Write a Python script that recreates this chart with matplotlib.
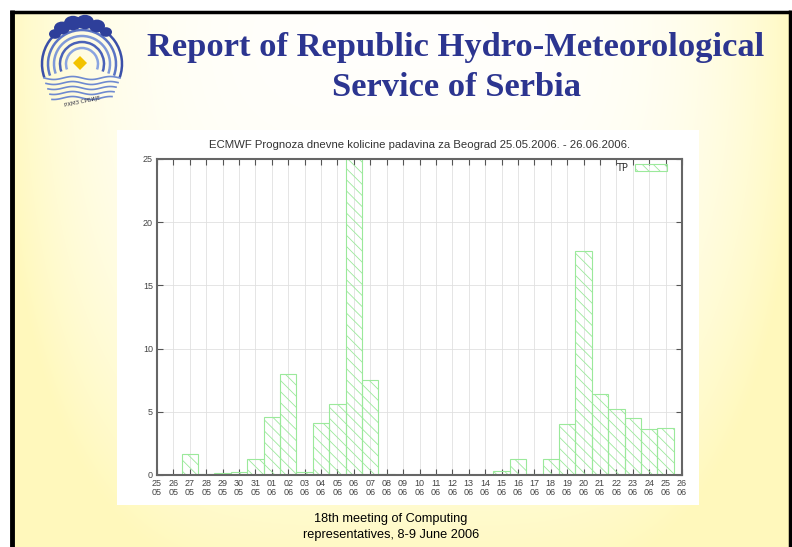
import numpy as np
import matplotlib.pyplot as plt
from matplotlib.patches import Rectangle, Arc, Polygon, Ellipse

# daily precipitation forecast, Belgrade 25.05.2006 - 26.06.2006
days = ["25", "26", "27", "28", "29", "30", "31",
        "01", "02", "03", "04", "05", "06", "07", "08", "09", "10",
        "11", "12", "13", "14", "15", "16", "17", "18", "19", "20",
        "21", "22", "23", "24", "25", "26"]
months = ["05"] * 7 + ["06"] * 26
tp = [0.0, 0.0, 1.65, 0.05, 0.15, 0.2, 1.3,
      4.6, 8.0, 0.2, 4.1, 5.6, 25.0, 7.55, 0.1, 0.0, 0.0,
      0.0, 0.0, 0.0, 0.0, 0.3, 1.3, 0.1, 1.3, 4.05, 17.7,
      6.4, 5.2, 4.5, 3.6, 3.75, 0.0]

W, H = 792, 547
fig = plt.figure(figsize=(W / 100, H / 100), dpi=100)

# slide background (pixel coordinates, y downwards)
bg = fig.add_axes([0, 0, 1, 1])
bg.set_xlim(0, W)
bg.set_ylim(H, 0)
bg.axis('off')

yy, xx = np.mgrid[0:H, 0:W]
w = ((xx - 400) / 390.0) ** 4 * 0.9 + ((yy - 40) / 520.0) ** 2 * 0.9
w = np.clip(w, 0, 1)
white = np.array([1.0, 1.0, 0.985])
yellow = np.array([1.0, 0.975, 0.74])
img = white[None, None, :] * (1 - w[..., None]) + yellow[None, None, :] * w[..., None]
img[:11, :] = 1.0
img[:, :11] = 1.0
bg.imshow(img, extent=(0, W, H, 0), aspect='auto', zorder=0)

# black frame of the slide
bg.plot([10, 790], [11.5, 11.5], color='black', lw=2.5, zorder=2, solid_capstyle='butt')
bg.plot([12, 12], [10, H], color='black', lw=3.5, zorder=2, solid_capstyle='butt')
bg.plot([789.5, 789.5], [10, H], color='black', lw=2.5, zorder=2, solid_capstyle='butt')

# white box behind the chart image
bg.add_patch(Rectangle((117, 130), 582, 375, facecolor='white', edgecolor='none', zorder=1))

# logo (rough sketch)
cx, cy = 82, 64
for i, r in enumerate([40, 34, 28, 22, 16]):
    bg.add_patch(Arc((cx, cy), 2 * r, 2 * r, theta1=-200, theta2=20,
                     color=['#3a4fa8', '#5a74c4', '#7f99d8', '#4a62b8', '#8aa4e0'][i],
                     lw=1.8, zorder=3))
for k in range(5):
    xs = np.linspace(cx - 38 + k * 2, cx + 38 - k * 2, 40)
    bg.plot(xs, cy + 14 + k * 5 + 1.5 * np.sin((xs - cx) / 6.0), color='#6f8ad0', lw=1.2, zorder=3)
bg.add_patch(Polygon([[cx - 2, cy - 8], [cx + 5, cy - 1], [cx - 2, cy + 6], [cx - 9, cy - 1]],
                     closed=True, facecolor='#f2c200', edgecolor='none', zorder=4))
# cloud on top of the logo
for dx, dy, r in [(-20, -36, 8), (-9, -41, 9), (3, -42, 9), (15, -38, 8), (24, -32, 6), (-27, -30, 6)]:
    bg.add_patch(Ellipse((cx + dx, cy + dy), 2 * r, 1.6 * r, facecolor='#2e3f9a',
                         edgecolor='none', zorder=3))
bg.text(cx, cy + 38, "РХМЗ СРБИЈЕ", ha='center', va='center', fontsize=4, color='#334',
        rotation=12, zorder=4)

# slide title
title_kw = dict(family='Liberation Serif', weight='bold', color='#2c3590', ha='center', va='center')
fig.text(456 / W, 1 - 48 / H, "Report of Republic Hydro-Meteorological", fontsize=24.8, **title_kw)
fig.text(456 / W, 1 - 88 / H, "Service of Serbia", fontsize=24.8, **title_kw)

# footer
foot_kw = dict(family='Liberation Sans', color='black', ha='center', va='center', fontsize=9.2)
fig.text(391 / W, 1 - 519 / H, "18th meeting of Computing", **foot_kw)
fig.text(391 / W, 1 - 535 / H, "representatives, 8-9 June 2006", **foot_kw)

# chart
ax = fig.add_axes([157 / W, 1 - 475 / H, (682 - 157) / W, (475 - 159) / H])
ax.set_facecolor('none')
x = np.arange(len(tp))
plt.rcParams['hatch.linewidth'] = 0.6
ax.bar(x, tp, width=1.0, fill=False, hatch='\\\\\\', edgecolor='#9be99b', linewidth=0.8,
       label='TP', zorder=2)
ax.set_xlim(0, len(tp) - 1)
ax.set_ylim(0, 25)
ax.set_xticks(x)
ax.set_xticklabels([d + "\n" + m for d, m in zip(days, months)], family='Liberation Sans',
                   linespacing=0.95)
ax.set_yticks([0, 5, 10, 15, 20, 25])
ax.tick_params(direction='in', top=True, right=True, length=4, width=0.8, labelsize=6.5,
               colors='#555', labelcolor='#444', pad=3)
for lab in ax.get_yticklabels():
    lab.set_family('Liberation Sans')
ax.grid(color='#e0e0e0', lw=0.6)
ax.set_axisbelow(True)
for s in ax.spines.values():
    s.set_color('#666')
    s.set_linewidth(1.5)
ax.set_title("ECMWF Prognoza dnevne kolicine padavina za Beograd 25.05.2006. - 26.06.2006.",
             fontsize=8.2, family='Liberation Sans', color='#333', pad=8)
ax.legend(loc='upper right', frameon=False, markerfirst=False, fontsize=7, handlelength=3.2,
          handleheight=0.8, borderaxespad=0.2, borderpad=0.2, bbox_to_anchor=(0.978, 1.0),
          labelcolor='#333')

fig.savefig('out.png', dpi=100)
